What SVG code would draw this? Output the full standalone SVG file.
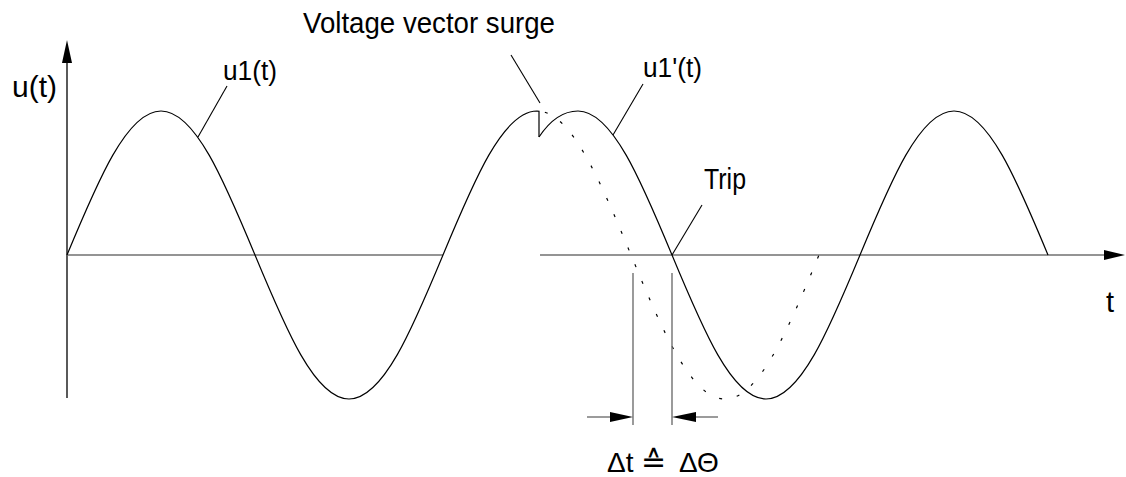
<svg xmlns="http://www.w3.org/2000/svg" width="1126" height="477" viewBox="0 0 1126 477">
<style>
text{font-family:"Liberation Sans",Arial,sans-serif;fill:#000}
.curve{fill:none;stroke:#000;stroke-width:1.2}
.dot{fill:none;stroke:#000;stroke-width:1.2;stroke-dasharray:3 15;stroke-dashoffset:-8}
.axis{fill:none;stroke:#000;stroke-width:1.3}
.haxis{fill:none;stroke:#707070;stroke-width:1.6}
.dim{fill:none;stroke:#707070;stroke-width:1.4}
.lead{fill:none;stroke:#000;stroke-width:1.1}
.head{fill:#000;stroke:none}
</style>
<rect width="1126" height="477" fill="#fff"/>
<g id="axes">
<line class="axis" x1="67" y1="398" x2="67" y2="60"/>
<polygon class="head" points="67,40 62,63 72,63"/>
<line class="haxis" x1="67" y1="255" x2="443" y2="255"/>
<line class="haxis" x1="540" y1="255" x2="1106" y2="255"/>
<polygon class="head" points="1125,255 1104,250 1104,260"/>
<text x="12" y="97" font-size="30" textLength="45" lengthAdjust="spacing">u(t)</text>
<text x="1106" y="312" font-size="29">t</text>
</g>
<g id="u1">
<path class="curve" d="M67,255 c30.6,-73.7 59.9,-144 94,-144 c34.1,0 63.4,70.3 94,144 c30.6,73.7 59.9,144 94,144 c34.1,0 63.4,-70.3 94,-144 c30.6,-73.7 59.9,-144 94,-144 L539,111.2 L539,137"/>
<text x="223" y="80" font-size="27" textLength="54" lengthAdjust="spacingAndGlyphs">u1(t)</text>
</g>
<g id="u1-continuation">
<path class="dot" d="M537,111 c34.1,0 63.4,70.3 94,144 c30.6,73.7 59.9,144 94,144 c34.1,0 63.4,-70.3 94,-144"/>
</g>
<g id="u1prime">
<path class="curve" d="M539,137 C551,119 565,111 578,111 c34.1,0 63.4,70.3 94,144 c30.6,73.7 59.9,144 94,144 c34.1,0 63.4,-70.3 94,-144 c30.6,-73.7 59.9,-144 94,-144 c34.1,0 63.4,70.3 94,144"/>
<text x="643" y="77" font-size="27" textLength="59" lengthAdjust="spacingAndGlyphs">u1'(t)</text>
</g>
<g id="surge">
<text x="303" y="33" font-size="29" textLength="252" lengthAdjust="spacingAndGlyphs">Voltage vector surge</text>
</g>
<g id="trip">
<text x="704" y="189" font-size="29" textLength="42" lengthAdjust="spacingAndGlyphs">Trip</text>
</g>
<g id="delta">
<line class="dim" x1="633" y1="273" x2="633" y2="425"/>
<line class="dim" x1="672" y1="273" x2="672" y2="425"/>
<line class="dim" x1="587" y1="417" x2="612" y2="417"/>
<polygon class="head" points="633,417 610,412 610,422"/>
<line class="dim" x1="718" y1="417" x2="694" y2="417"/>
<polygon class="head" points="672,417 696,412 696,422"/>
<text y="472" font-size="28"><tspan x="607">Δt</tspan><tspan x="641" font-family="'DejaVu Sans',sans-serif" font-size="30">≙</tspan><tspan x="679">ΔΘ</tspan></text>
</g>
<g id="connectors">
<line class="lead" x1="227" y1="86" x2="198" y2="137"/>
<line class="lead" x1="643" y1="84" x2="613" y2="135"/>
<line class="lead" x1="511" y1="55" x2="540" y2="103"/>
<line class="lead" x1="702" y1="205" x2="672" y2="255"/>
</g>
</svg>
